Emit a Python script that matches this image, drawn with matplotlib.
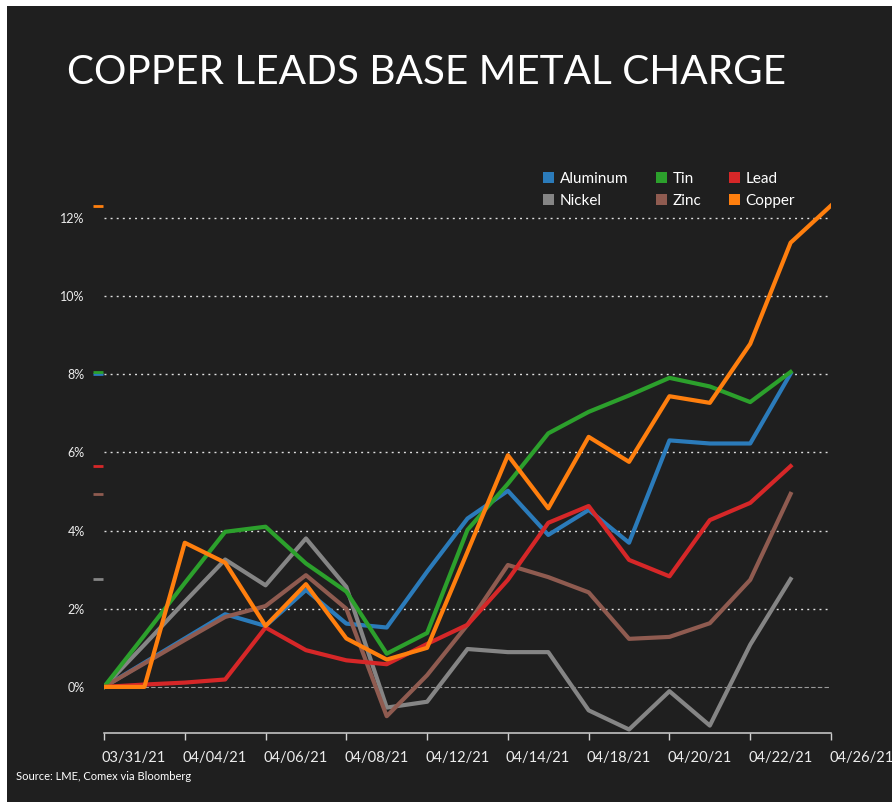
import matplotlib
matplotlib.use("Agg")
import matplotlib.pyplot as plt
import matplotlib.transforms as mtransforms
from matplotlib.patches import Patch, Rectangle

plt.rcParams['font.family'] = ['Lato', 'DejaVu Sans']

# ----------------------------
# Data (daily % change since 03/31/21)
# ----------------------------
date_labels = ["03/31/21", "04/04/21", "04/06/21", "04/08/21", "04/12/21",
               "04/14/21", "04/18/21", "04/20/21", "04/22/21", "04/26/21"]

aluminum = [0, 0.62, 1.24, 1.86, 1.56, 2.48, 1.62, 1.52, 2.95, 4.31,
            5.02, 3.89, 4.53, 3.69, 6.31, 6.23, 6.23, 8.02]
nickel = [0, 1.08, 2.18, 3.26, 2.60, 3.80, 2.56, -0.53, -0.38, 0.97,
          0.89, 0.89, -0.60, -1.09, -0.11, -0.99, 1.08, 2.76]
zinc = [0, 0.60, 1.20, 1.79, 2.07, 2.86, 2.00, -0.75, 0.30, 1.59,
        3.12, 2.81, 2.42, 1.23, 1.28, 1.63, 2.74, 4.94]
tin = [0, 1.32, 2.66, 3.97, 4.10, 3.16, 2.44, 0.85, 1.38, 4.02,
       5.20, 6.49, 7.04, 7.46, 7.91, 7.69, 7.29, 8.06]
lead = [0, 0.06, 0.11, 0.19, 1.52, 0.94, 0.68, 0.58, 1.10, 1.59,
        2.74, 4.20, 4.63, 3.25, 2.83, 4.27, 4.71, 5.65]
copper = [0, 0, 3.69, 3.18, 1.56, 2.63, 1.24, 0.70, 1.00, 3.46,
          5.93, 4.57, 6.40, 5.76, 7.44, 7.27, 8.78, 11.37, 12.32]

series = [
    ("Aluminum", aluminum, "#2b7bba"),
    ("Nickel", nickel, "#858585"),
    ("Zinc", zinc, "#8f5b50"),
    ("Tin", tin, "#2ca02c"),
    ("Lead", lead, "#d62728"),
    ("Copper", copper, "#ff7f0e"),
]
legend_order = ["Aluminum", "Nickel", "Tin", "Zinc", "Lead", "Copper"]

y_ticks = [0, 2, 4, 6, 8, 10, 12]

# ----------------------------
# Figure
# ----------------------------
W, H = 892, 802
bg = "#1f1f1f"
fig = plt.figure(figsize=(W / 100, H / 100), dpi=100, facecolor="white")
fig.patches.append(Rectangle((7 / W, 0), 1 - 7 / W, 1 - 6 / H,
                             transform=fig.transFigure, facecolor=bg,
                             edgecolor="none", zorder=-10))

ax = fig.add_axes([104 / W, (H - 733) / H, 727 / W, (733 - 179) / H])
ax.set_facecolor("none")

n_pts = len(copper)
ax.set_xlim(0, n_pts - 1)
ax.set_ylim(-1.18, 13.0)

# gridlines
for yv in y_ticks:
    if yv == 0:
        ax.axhline(yv, color="#9a9a9a", lw=0.8, ls=(0, (4, 2)), zorder=1)
    else:
        ax.axhline(yv, color="#e0e0e0", lw=1.0, ls=(0, (1.4, 3)), zorder=1)

# lines
colors = {}
for name, vals, col in series:
    colors[name] = col
    ax.plot(range(len(vals)), vals, color=col, lw=3.0, zorder=3)

# end-value markers left of the axis
trans = mtransforms.blended_transform_factory(ax.transAxes, ax.transData)
for name, vals, col in series:
    ax.plot([-0.0155, -0.0015], [vals[-1], vals[-1]], color=col, lw=2.0,
            transform=trans, clip_on=False, solid_capstyle="butt", zorder=4)

# axes styling
for s in ["top", "right", "left"]:
    ax.spines[s].set_visible(False)
ax.spines["bottom"].set_color("#d0d0d0")
ax.spines["bottom"].set_linewidth(1.1)

ax.set_yticks(y_ticks)
ax.set_yticklabels([f"{v}%" for v in y_ticks])
ax.tick_params(axis="y", length=0, pad=14, labelsize=9, labelcolor="#ececec")

ax.set_xticks(range(0, n_pts, 2))
ax.set_xticklabels(date_labels, ha="left")
ax.tick_params(axis="x", length=5, width=1, color="#d0d0d0", pad=8,
               labelsize=10.5, labelcolor="#ececec")
offset = mtransforms.ScaledTranslation(-2 / 100, 0, fig.dpi_scale_trans)
for lbl in ax.get_xticklabels():
    lbl.set_transform(lbl.get_transform() + offset)

# legend
handles = [Patch(facecolor=colors[n], edgecolor="none") for n in legend_order]
fig.legend(handles, legend_order, ncol=3, loc="upper left",
           bbox_to_anchor=(543 / W, 1 - 172 / H), frameon=False, fontsize=11,
           handlelength=0.75, handleheight=0.75, handletextpad=0.35,
           columnspacing=1.8, labelspacing=0.5, borderpad=0, borderaxespad=0,
           labelcolor="white")

# title and source
fig.text(67 / W, 1 - 72 / H, "COPPER LEADS BASE METAL CHARGE", color="white",
         fontsize=29.2, va="center", ha="left")
fig.text(16 / W, 1 - 776 / H, "Source: LME, Comex via Bloomberg",
         color="white", fontsize=8, va="center", ha="left")

fig.savefig("out.png", dpi=100, facecolor=fig.get_facecolor())
